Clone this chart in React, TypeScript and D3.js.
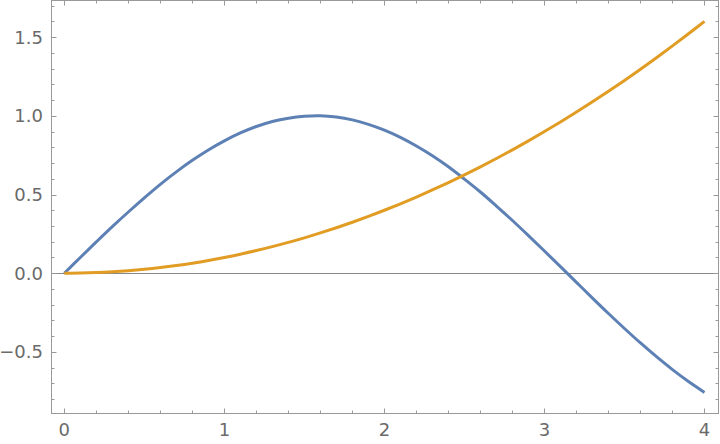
import { useEffect, useRef } from 'react'
import * as d3 from 'd3'

// sample points, step 0.1 on x
const xs = [
  0, 0.1, 0.2, 0.3, 0.4, 0.5, 0.6, 0.7, 0.8, 0.9, 1.0, 1.1, 1.2, 1.3, 1.4, 1.5, 1.6, 1.7, 1.8, 1.9, 2.0,
  2.1, 2.2, 2.3, 2.4, 2.5, 2.6, 2.7, 2.8, 2.9, 3.0, 3.1, 3.2, 3.3, 3.4, 3.5, 3.6, 3.7, 3.8, 3.9, 4.0,
]
const blueValues = [
  0, 0.1, 0.199, 0.296, 0.389, 0.479, 0.565, 0.644, 0.717, 0.783, 0.841, 0.891, 0.932, 0.964, 0.985, 0.997,
  1.0, 0.992, 0.974, 0.946, 0.909, 0.863, 0.808, 0.746, 0.676, 0.598, 0.516, 0.427, 0.335, 0.239, 0.141,
  0.042, -0.058, -0.158, -0.256, -0.351, -0.443, -0.53, -0.612, -0.688, -0.757,
]
const orangeValues = [
  0, 0.001, 0.004, 0.009, 0.016, 0.025, 0.036, 0.049, 0.064, 0.081, 0.1, 0.121, 0.144, 0.169, 0.196, 0.225,
  0.256, 0.289, 0.324, 0.361, 0.4, 0.441, 0.484, 0.529, 0.576, 0.625, 0.676, 0.729, 0.784, 0.841, 0.9,
  0.961, 1.024, 1.089, 1.156, 1.225, 1.296, 1.369, 1.444, 1.521, 1.6,
]
const xTicks = [0, 1, 2, 3, 4]
const yTicks = [-0.5, 0, 0.5, 1.0, 1.5]

export default function App() {
  const svgRef = useRef<SVGSVGElement>(null)

  useEffect(() => {
    if (!svgRef.current) return
    const svg = d3.select(svgRef.current)
    svg.selectAll('*').remove()

    const left = 51.5
    const right = 718.5
    const top = 0.5
    const bottom = 413.5
    const frameColor = '#999'
    const textColor = '#6a6a6a'

    const x = d3.scaleLinear().domain([-0.08, 4.0875]).range([left, right])
    const y = d3.scaleLinear().domain([-0.891, 1.7325]).range([bottom, top])

    svg.append('defs').append('clipPath').attr('id', 'plotClip')
      .append('rect')
      .attr('x', left).attr('y', top)
      .attr('width', right - left).attr('height', bottom - top)

    // zero axis
    svg.append('line')
      .attr('x1', left).attr('x2', right)
      .attr('y1', Math.round(y(0)) + 0.5).attr('y2', Math.round(y(0)) + 0.5)
      .attr('stroke', '#888').attr('stroke-width', 1)

    const pts = (vals: number[]) => xs.map((v, i) => [v, vals[i]] as [number, number])
    const line = d3.line<[number, number]>()
      .x(d => x(d[0]))
      .y(d => y(d[1]))
      .curve(d3.curveCatmullRom)

    const plot = svg.append('g').attr('clip-path', 'url(#plotClip)')
    plot.append('path')
      .attr('d', line(pts(blueValues)))
      .attr('fill', 'none').attr('stroke', '#5E81B5').attr('stroke-width', 3)
      .attr('stroke-linejoin', 'round')
    plot.append('path')
      .attr('d', line(pts(orangeValues)))
      .attr('fill', 'none').attr('stroke', '#E19C24').attr('stroke-width', 3)
      .attr('stroke-linejoin', 'round')

    // frame
    svg.append('rect')
      .attr('x', left).attr('y', top)
      .attr('width', right - left).attr('height', bottom - top)
      .attr('fill', 'none').attr('stroke', frameColor).attr('stroke-width', 1)

    const ticks = svg.append('g').attr('stroke', frameColor).attr('stroke-width', 1)
    const xMinor = d3.range(0, 4.01, 0.2).filter(v => Math.abs(v - Math.round(v)) > 1e-6)
    const yMinor = d3.range(-0.8, 1.71, 0.1).filter(v => Math.abs(v * 2 - Math.round(v * 2)) > 1e-6)

    xTicks.forEach(v => {
      const px = Math.round(x(v)) + 0.5
      ticks.append('line').attr('x1', px).attr('x2', px).attr('y1', bottom).attr('y2', bottom - 5)
      ticks.append('line').attr('x1', px).attr('x2', px).attr('y1', top).attr('y2', top + 5)
    })
    xMinor.forEach(v => {
      const px = Math.round(x(v)) + 0.5
      ticks.append('line').attr('x1', px).attr('x2', px).attr('y1', bottom).attr('y2', bottom - 3)
      ticks.append('line').attr('x1', px).attr('x2', px).attr('y1', top).attr('y2', top + 3)
    })
    yTicks.forEach(v => {
      const py = Math.round(y(v)) + 0.5
      ticks.append('line').attr('x1', left).attr('x2', left + 5).attr('y1', py).attr('y2', py)
      ticks.append('line').attr('x1', right).attr('x2', right - 5).attr('y1', py).attr('y2', py)
    })
    yMinor.forEach(v => {
      const py = Math.round(y(v)) + 0.5
      ticks.append('line').attr('x1', left).attr('x2', left + 3).attr('y1', py).attr('y2', py)
      ticks.append('line').attr('x1', right).attr('x2', right - 3).attr('y1', py).attr('y2', py)
    })

    const fmtY = (v: number) => (v < 0 ? '\u2212' : '') + Math.abs(v).toFixed(1)
    svg.append('g')
      .selectAll('text')
      .data(yTicks)
      .join('text')
      .attr('x', 43)
      .attr('y', d => y(d))
      .attr('dy', '0.36em')
      .attr('text-anchor', 'end')
      .attr('fill', textColor)
      .attr('font-family', 'DejaVu Sans, sans-serif')
      .attr('font-size', 18)
      .text(fmtY)

    svg.append('g')
      .selectAll('text')
      .data(xTicks)
      .join('text')
      .attr('x', d => x(d))
      .attr('y', 430)
      .attr('dy', '0.36em')
      .attr('text-anchor', 'middle')
      .attr('fill', textColor)
      .attr('font-family', 'DejaVu Sans, sans-serif')
      .attr('font-size', 18)
      .text(d => String(d))
  }, [])

  return (
    <svg
      ref={svgRef}
      width={720}
      height={444}
      style={{ position: 'absolute', left: 0, top: 0, background: '#fff' }}
    />
  )
}
